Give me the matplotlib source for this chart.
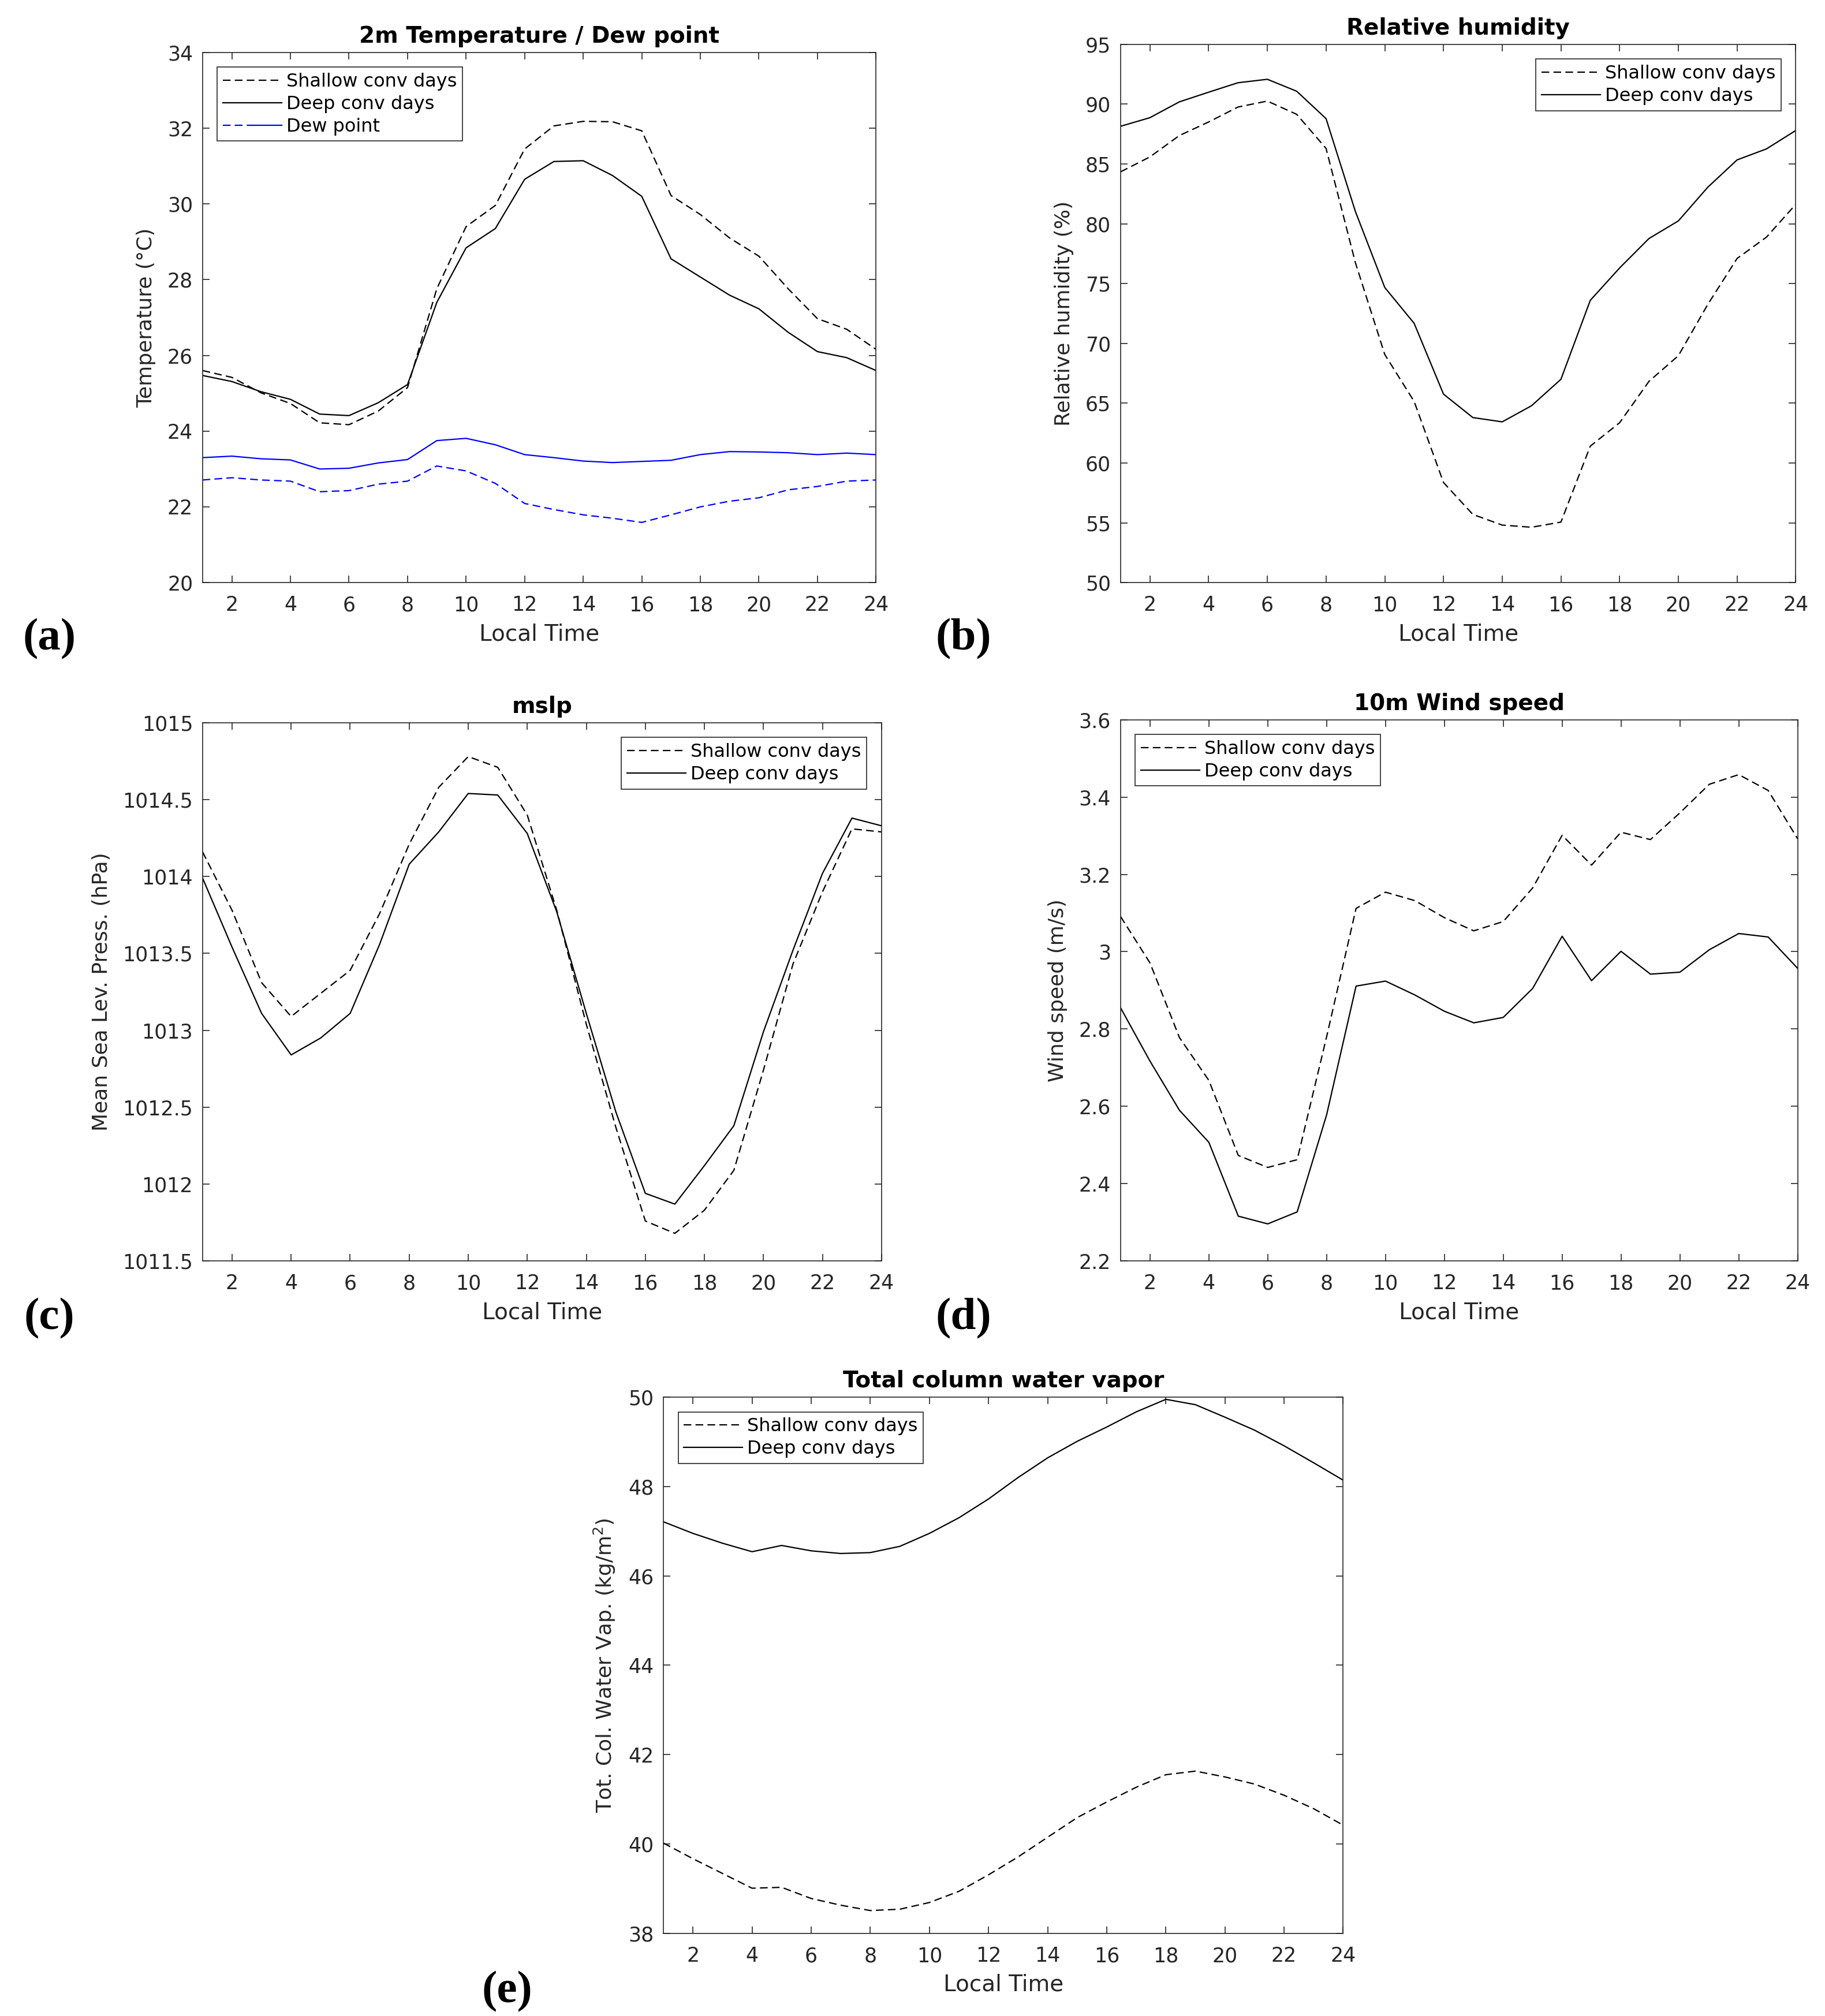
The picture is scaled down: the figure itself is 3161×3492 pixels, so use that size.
import matplotlib
matplotlib.use("Agg")
import matplotlib.pyplot as plt
from matplotlib.lines import Line2D
from matplotlib.legend_handler import HandlerBase

hours = list(range(1, 25))

# (a) 2m temperature / dew point
temp_shallow = [25.60, 25.42, 25.01, 24.73, 24.22, 24.17, 24.53, 25.15, 27.76, 29.40, 29.96, 31.45,
                32.06, 32.18, 32.17, 31.93, 30.22, 29.72, 29.10, 28.62, 27.76, 26.97, 26.69, 26.16]
temp_deep = [25.47, 25.31, 25.04, 24.84, 24.45, 24.41, 24.75, 25.23, 27.40, 28.84, 29.35, 30.65,
             31.12, 31.14, 30.75, 30.20, 28.55, 28.07, 27.59, 27.23, 26.61, 26.10, 25.94, 25.60]
dew_deep = [23.30, 23.34, 23.27, 23.24, 23.00, 23.02, 23.16, 23.25, 23.75, 23.81, 23.64, 23.38,
            23.30, 23.21, 23.17, 23.20, 23.23, 23.38, 23.46, 23.45, 23.43, 23.38, 23.42, 23.38]
dew_shallow = [22.71, 22.77, 22.71, 22.68, 22.40, 22.43, 22.60, 22.68, 23.08, 22.95, 22.62, 22.09,
               21.93, 21.79, 21.70, 21.59, 21.79, 22.00, 22.15, 22.24, 22.45, 22.54, 22.68, 22.71]

# (b) relative humidity
rh_deep = [88.15, 88.87, 90.19, 91.00, 91.79, 92.08, 91.08, 88.79, 81.02, 74.67, 71.68, 65.76,
           63.80, 63.44, 64.79, 67.00, 73.60, 76.31, 78.77, 80.24, 83.05, 85.34, 86.26, 87.80]
rh_shallow = [84.34, 85.59, 87.37, 88.51, 89.76, 90.26, 89.15, 86.30, 76.74, 69.07, 65.15, 58.37,
              55.70, 54.81, 54.63, 55.06, 61.41, 63.37, 66.83, 68.97, 73.25, 77.10, 78.88, 81.63]

# (c) mslp
mslp_shallow = [1014.16, 1013.78, 1013.31, 1013.09, 1013.24, 1013.39, 1013.76, 1014.21, 1014.58, 1014.78,
                1014.71, 1014.40, 1013.78, 1013.04, 1012.37, 1011.76, 1011.68, 1011.83, 1012.09, 1012.74,
                1013.43, 1013.90, 1014.31, 1014.29]
mslp_deep = [1013.99, 1013.54, 1013.11, 1012.84, 1012.95, 1013.11, 1013.56, 1014.08, 1014.29, 1014.54,
             1014.53, 1014.28, 1013.77, 1013.11, 1012.47, 1011.94, 1011.87, 1012.12, 1012.38, 1012.99,
             1013.52, 1014.02, 1014.38, 1014.33]

# (d) 10m wind speed
wind_shallow = [3.091, 2.971, 2.778, 2.667, 2.473, 2.442, 2.462, 2.780, 3.112, 3.154, 3.132, 3.088,
                3.054, 3.078, 3.165, 3.301, 3.224, 3.309, 3.290, 3.359, 3.433, 3.458, 3.417, 3.292]
wind_deep = [2.855, 2.717, 2.590, 2.507, 2.316, 2.296, 2.327, 2.578, 2.911, 2.924, 2.888, 2.846,
             2.816, 2.830, 2.905, 3.040, 2.925, 3.001, 2.942, 2.947, 3.005, 3.047, 3.038, 2.957]

# (e) total column water vapour
tcwv_deep = [47.21, 46.95, 46.73, 46.54, 46.68, 46.56, 46.50, 46.52, 46.66, 46.95, 47.30, 47.72,
             48.20, 48.64, 49.01, 49.33, 49.67, 49.95, 49.83, 49.55, 49.26, 48.91, 48.53, 48.14]
tcwv_shallow = [40.02, 39.67, 39.34, 39.01, 39.03, 38.78, 38.63, 38.51, 38.54, 38.69, 38.94, 39.31,
                39.71, 40.15, 40.59, 40.94, 41.27, 41.55, 41.63, 41.50, 41.34, 41.09, 40.79, 40.42]

xticks = list(range(2, 25, 2))
label_shallow = "Shallow conv days"
label_deep = "Deep conv days"

AX = "#262626"
TICK_FS = 25
YLAB_FS = 26
XLAB_FS = 28
TITLE_FS = 28
LEG_FS = 23
LW = 1.6
DASH = (0, (6, 3.3))

plt.rcParams['font.family'] = ['DejaVu Sans']
plt.rcParams['axes.edgecolor'] = AX
plt.rcParams['axes.linewidth'] = 1.2

fig = plt.figure(figsize=(31.61, 34.92), dpi=100)


def make_ax(rect, title, ylabel, ylim, yticks, yticklabels=None):
    ax = fig.add_axes(rect)
    ax.set_xlim(1, 24)
    ax.set_ylim(*ylim)
    ax.set_xticks(xticks)
    ax.set_yticks(yticks)
    if yticklabels is not None:
        ax.set_yticklabels(yticklabels)
    ax.tick_params(direction='in', length=8.5, width=1.2, top=True, right=True,
                   labelsize=TICK_FS, colors=AX)
    ax.tick_params(axis='y', pad=12)
    ax.tick_params(axis='x', pad=16)
    ax.set_title(title, fontsize=TITLE_FS, fontweight='bold', pad=12, color='black')
    ax.set_xlabel("Local Time", fontsize=XLAB_FS, color=AX, labelpad=10)
    ax.set_ylabel(ylabel, fontsize=YLAB_FS, color=AX, labelpad=14)
    return ax


LEG_KW = dict(fontsize=LEG_FS, frameon=True, fancybox=False, edgecolor=AX, framealpha=1,
              handlelength=3.2, handletextpad=0.25, borderpad=0.3, labelspacing=0.25,
              borderaxespad=0.8)


def add_legend(ax, loc):
    leg = ax.legend(loc=loc, **LEG_KW)
    leg.get_frame().set_linewidth(1.2)
    return leg


class DewHandler(HandlerBase):
    def create_artists(self, legend, orig_handle, xdescent, ydescent, width, height, fontsize, trans):
        y = height / 2 - ydescent
        l1 = Line2D([-xdescent, -xdescent + width / 2], [y, y], color='blue', ls=DASH, lw=LW, transform=trans)
        l2 = Line2D([-xdescent + width / 2, -xdescent + width], [y, y], color='blue', ls='-', lw=LW,
                    transform=trans)
        return [l1, l2]


# (a)
ax = make_ax([0.111, 0.711, 0.369, 0.263], "2m Temperature / Dew point", "Temperature (°C)",
             (20, 34), list(range(20, 35, 2)))
ax.plot(hours, temp_shallow, color='black', ls=DASH, lw=LW)
ax.plot(hours, temp_deep, color='black', ls='-', lw=LW)
ax.plot(hours, dew_deep, color='blue', ls='-', lw=LW)
ax.plot(hours, dew_shallow, color='blue', ls=DASH, lw=LW)
h_s = Line2D([], [], color='black', ls=DASH, lw=LW)
h_d = Line2D([], [], color='black', ls='-', lw=LW)
h_dew = Line2D([], [], color='blue', lw=LW)
leg = ax.legend([h_s, h_d, h_dew], [label_shallow, label_deep, "Dew point"], loc='upper left',
                handler_map={h_dew: DewHandler()}, **LEG_KW)
leg.get_frame().set_linewidth(1.2)

# (b)
ax = make_ax([0.614, 0.711, 0.370, 0.267], "Relative humidity", "Relative humidity (%)",
             (50, 95), list(range(50, 96, 5)))
ax.plot(hours, rh_shallow, color='black', ls=DASH, lw=LW, label=label_shallow)
ax.plot(hours, rh_deep, color='black', ls='-', lw=LW, label=label_deep)
add_legend(ax, 'upper right')

# (c)
yt_c = [1011.5, 1012, 1012.5, 1013, 1013.5, 1014, 1014.5, 1015]
ax = make_ax([0.111, 0.3745, 0.372, 0.267], "mslp", "Mean Sea Lev. Press. (hPa)",
             (1011.5, 1015), yt_c, [f"{v:g}" for v in yt_c])
ax.plot(hours, mslp_shallow, color='black', ls=DASH, lw=LW, label=label_shallow)
ax.plot(hours, mslp_deep, color='black', ls='-', lw=LW, label=label_deep)
add_legend(ax, 'upper right')

# (d)
yt_d = [2.2, 2.4, 2.6, 2.8, 3.0, 3.2, 3.4, 3.6]
ax = make_ax([0.614, 0.3745, 0.371, 0.2685], "10m Wind speed", "Wind speed (m/s)",
             (2.2, 3.6), yt_d, [f"{v:g}" for v in yt_d])
ax.plot(hours, wind_shallow, color='black', ls=DASH, lw=LW, label=label_shallow)
ax.plot(hours, wind_deep, color='black', ls='-', lw=LW, label=label_deep)
add_legend(ax, 'upper left')

# (e)
ax = make_ax([0.3635, 0.041, 0.3725, 0.266], "Total column water vapor", "Tot. Col. Water Vap. (kg/m$^2$)",
             (38, 50), list(range(38, 51, 2)))
ax.plot(hours, tcwv_shallow, color='black', ls=DASH, lw=LW, label=label_shallow)
ax.plot(hours, tcwv_deep, color='black', ls='-', lw=LW, label=label_deep)
add_legend(ax, 'upper left')

# panel letters
for lab, (x, y) in zip(["(a)", "(b)", "(c)", "(d)", "(e)"],
                       [(0.027, 0.683), (0.528, 0.683), (0.027, 0.346), (0.528, 0.346), (0.278, 0.0122)]):
    fig.text(x, y, lab, fontsize=57, fontweight='bold', family=['Liberation Serif', 'DejaVu Serif'],
             ha='center', va='center')

fig.savefig("out.png", dpi=100)
